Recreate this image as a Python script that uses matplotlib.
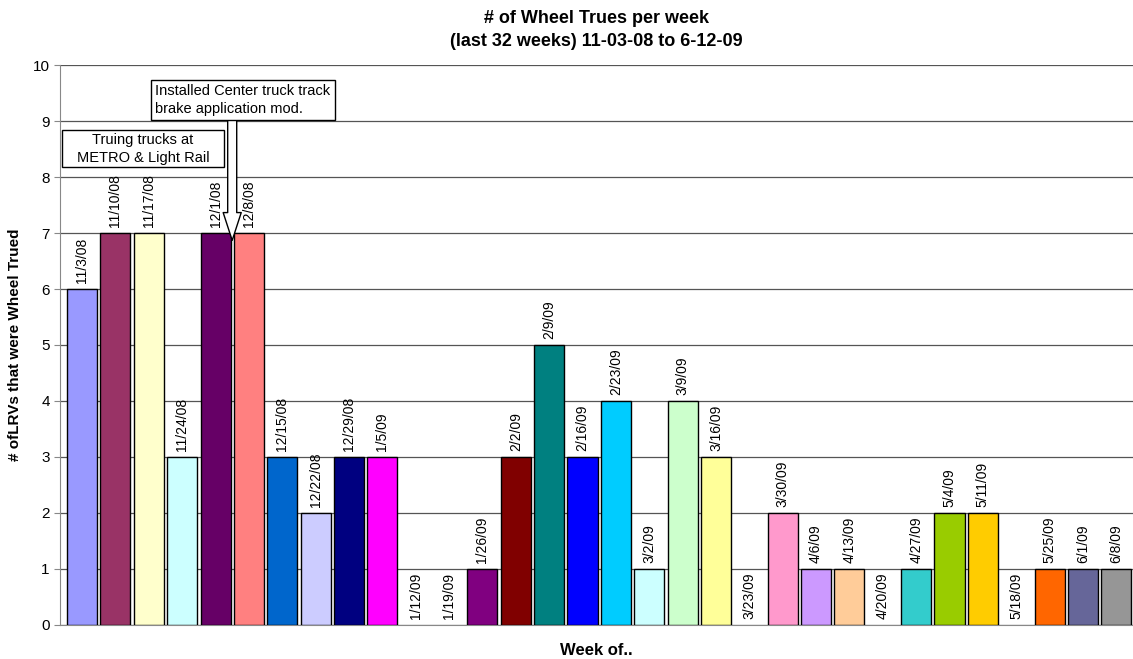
import matplotlib
matplotlib.use("Agg")
import matplotlib.pyplot as plt
from matplotlib.patches import Rectangle

plt.rcParams['font.family'] = ['Liberation Sans', 'DejaVu Sans']

weeks = ["11/3/08", "11/10/08", "11/17/08", "11/24/08", "12/1/08", "12/8/08",
         "12/15/08", "12/22/08", "12/29/08", "1/5/09", "1/12/09", "1/19/09",
         "1/26/09", "2/2/09", "2/9/09", "2/16/09", "2/23/09", "3/2/09",
         "3/9/09", "3/16/09", "3/23/09", "3/30/09", "4/6/09", "4/13/09",
         "4/20/09", "4/27/09", "5/4/09", "5/11/09", "5/18/09", "5/25/09",
         "6/1/09", "6/8/09"]
trues = [6, 7, 7, 3, 7, 7, 3, 2, 3, 3, 0, 0, 1, 3, 5, 3, 4, 1, 4, 3, 0, 2,
         1, 1, 0, 1, 2, 2, 0, 1, 1, 1]
colors = ["#9999FF", "#993366", "#FFFFCC", "#CCFFFF", "#660066", "#FF8080",
          "#0066CC", "#CCCCFF", "#000080", "#FF00FF", "#FFFFFF", "#FFFFFF",
          "#800080", "#800000", "#008080", "#0000FF", "#00CCFF", "#CCFFFF",
          "#CCFFCC", "#FFFF99", "#FFFFFF", "#FF99CC", "#CC99FF", "#FFCC99",
          "#FFFFFF", "#33CCCC", "#99CC00", "#FFCC00", "#FFFFFF", "#FF6600",
          "#666699", "#969696"]

fig = plt.figure(figsize=(11.33, 6.59), dpi=100)
ax = fig.add_axes([0.053, 0.052, 0.947, 0.849])

for i, v in enumerate(trues):
    if v > 0:
        ax.bar(i, v, width=0.9, color=colors[i], edgecolor="black", linewidth=1, zorder=3)
    ax.text(i, v + 0.1, weeks[i], rotation=90, ha="center", va="bottom",
            fontsize=10, zorder=4)

ax.set_xlim(-0.66, 31.5)
ax.set_ylim(0, 10)
ax.set_yticks(range(0, 11))
ax.set_xticks([])
ax.yaxis.grid(True, color="#555555", linewidth=0.9, zorder=0)
ax.tick_params(axis="y", labelsize=11, length=4, color="#888888")
for s in ["top", "right"]:
    ax.spines[s].set_visible(False)
ax.spines["left"].set_color("#888888")
ax.spines["bottom"].set_color("#888888")

ax.set_ylabel("# ofLRVs that were Wheel Trued", fontsize=11, fontweight="bold", labelpad=8)
ax.set_xlabel("Week of..", fontsize=12, fontweight="bold", labelpad=13)
ax.set_title("# of Wheel Trues per week\n(last 32 weeks) 11-03-08 to 6-12-09",
             fontsize=13, fontweight="bold", pad=14, linespacing=1.45)

# notes
ax.add_patch(Rectangle((-0.60, 8.18), 4.86, 0.66, fc="white", ec="black", lw=1, zorder=5))
ax.text(1.83, 8.51, "Truing trucks at\nMETRO & Light Rail", ha="center", va="center",
        fontsize=10.5, linespacing=1.35, zorder=6)
ax.annotate("", xy=(4.5, 6.87), xytext=(4.5, 9.02),
            arrowprops=dict(arrowstyle="simple,head_width=1.3,head_length=2.0,tail_width=0.65",
                            fc="white", ec="black", lw=1, shrinkA=0, shrinkB=0), zorder=5)
ax.text(2.2, 9.38, "Installed Center truck track\nbrake application mod.", ha="left", va="center",
        fontsize=10.5, linespacing=1.35, zorder=6,
        bbox=dict(boxstyle="square,pad=0.3", fc="white", ec="black", lw=1))

fig.savefig("out.png", dpi=100)
